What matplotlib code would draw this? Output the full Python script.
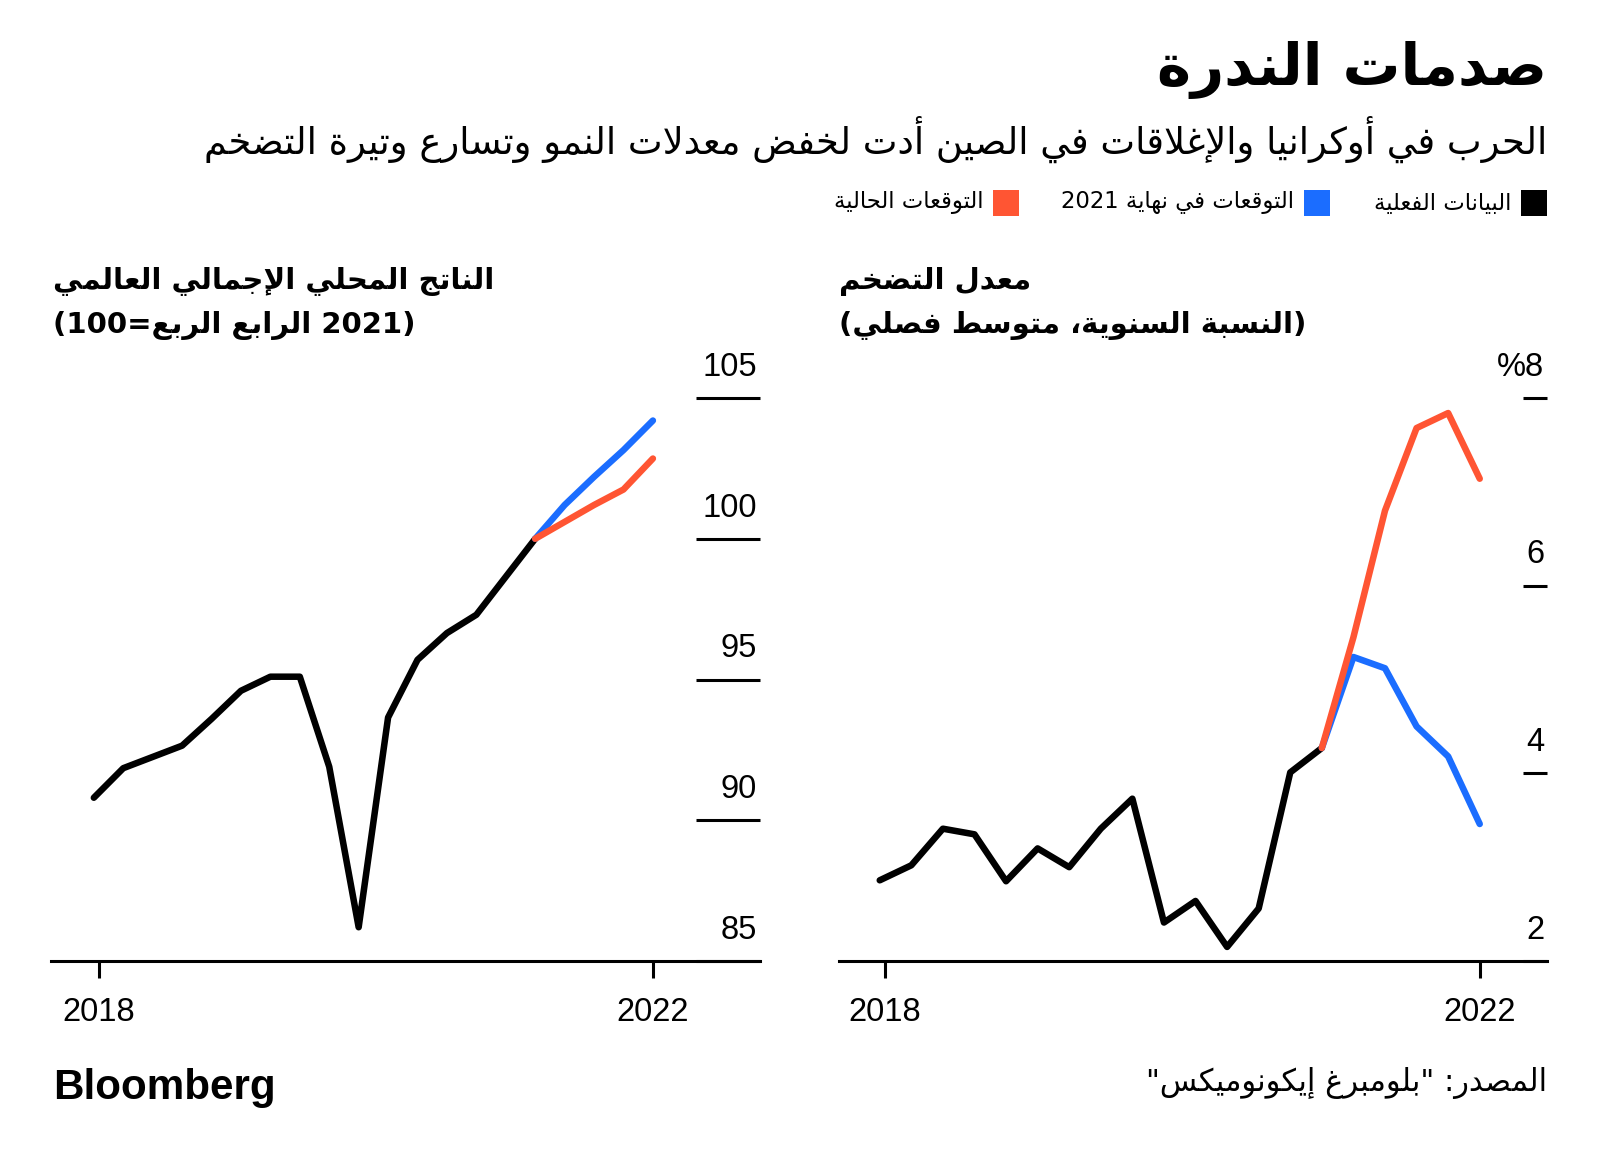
import re
import matplotlib
matplotlib.use("Agg")
import matplotlib.pyplot as plt
from matplotlib.patches import Rectangle

# ---------------- data ----------------
# quarterly, 2018Q1 .. 2022Q4 (index 0..19)
gdp_actual = [90.8, 91.85, 92.25, 92.65, 93.6, 94.6, 95.1, 95.1,
              91.9, 86.2, 93.65, 95.7, 96.65, 97.3, 98.65, 100.0]
gdp_old_fc = [100.0, 101.2, 102.2, 103.15, 104.2]
gdp_new_fc = [100.0, 100.6, 101.2, 101.75, 102.85]

infl_actual = [2.86, 3.02, 3.41, 3.35, 2.85, 3.2, 3.0, 3.41,
               3.73, 2.41, 2.64, 2.15, 2.56, 4.01, 4.27]
infl_old_fc = [4.27, 5.24, 5.12, 4.5, 4.18, 3.46]
infl_new_fc = [4.27, 5.45, 6.8, 7.68, 7.84, 7.14]

x_tick_pos = [0.17, 19]
x_tick_labels = ["2018", "2022"]
gdp_ticks = [85, 90, 95, 100, 105]
gdp_tick_labels = ["85", "90", "95", "100", "105"]
infl_ticks = [2, 4, 6, 8]
infl_tick_labels = ["2", "4", "6", "%8"]

title = "صدمات الندرة"
subtitle = "الحرب في أوكرانيا والإغلاقات في الصين أدت لخفض معدلات النمو وتسارع وتيرة التضخم"
legend_labels = ["البيانات الفعلية", "التوقعات في نهاية 2021", "التوقعات الحالية"]
gdp_title = "الناتج المحلي الإجمالي العالمي"
infl_title = "معدل التضخم"
infl_sub = "(النسبة السنوية، متوسط فصلي)"
source = 'المصدر: "بلومبرغ إيكونوميكس"'

BLACK = "#000000"
BLUE = "#1b6dff"
ORANGE = "#ff5533"
colors = [BLACK, BLUE, ORANGE]

# ---------------- minimal arabic shaping (no raqm in mpl) ----------------
# letter -> (first presentation form, number of forms)
FORMS = {"\u0621": (0xFE80, 1)}
_code = 0xFE81
for _c, _n in zip(range(0x0622, 0x064B),
                  [2, 2, 2, 2, 4, 2, 4, 2, 4, 4, 4, 4, 4, 2, 2, 2, 2, 4, 4, 4, 4, 4, 4, 4, 4,
                   0, 0, 0, 0, 0, 0, 4, 4, 4, 4, 4, 4, 4, 2, 2, 4]):
    if _n:
        FORMS[chr(_c)] = (_code, _n)
        _code += _n
LAMALEF = {"\u0622": 0xFEF5, "\u0623": 0xFEF7, "\u0625": 0xFEF9, "\u0627": 0xFEFB}


def shape(s):
    out = []
    i = 0
    while i < len(s):
        c = s[i]
        if c not in FORMS:
            out.append(c)
            i += 1
            continue
        prev = s[i - 1] if i > 0 else ""
        jp = prev in FORMS and FORMS[prev][1] == 4 and FORMS[c][1] > 1
        if c == "\u0644" and i + 1 < len(s) and s[i + 1] in LAMALEF:
            out.append(chr(LAMALEF[s[i + 1]] + (1 if jp else 0)))
            i += 2
            continue
        nxt = s[i + 1] if i + 1 < len(s) else ""
        base, k = FORMS[c]
        jn = k == 4 and nxt in FORMS and FORMS[nxt][1] > 1
        if k == 4:
            off = 3 if (jp and jn) else 2 if jn else 1 if jp else 0
        elif k == 2:
            off = 1 if jp else 0
        else:
            off = 0
        out.append(chr(base + off))
        i += 1
    return "".join(out)


def ar(s):
    runs = re.findall(r"[0-9A-Za-z]+|.", shape(s))
    runs.reverse()
    return "".join(runs).translate(str.maketrans("()", ")("))


W, H = 1600, 1164
fig = plt.figure(figsize=(W / 100, H / 100), dpi=100)
fig.patch.set_facecolor("white")

AR = ["DejaVu Sans"]
NUM = ["Liberation Sans", "DejaVu Sans"]


def fx(px):
    return px / W


def fy(py):
    return 1 - py / H


# ---------------- header ----------------
fig.text(fx(1547), fy(70), ar(title), family=AR, weight="bold", fontsize=41.5,
         ha="right", va="center")
fig.text(fx(1547), fy(139), ar(subtitle), family=AR, fontsize=26.6,
         ha="right", va="center")

sq = 26
leg_sq_right = [1547, 1330, 1019]
for lab, col, xr in zip(legend_labels, colors, leg_sq_right):
    fig.add_artist(Rectangle((fx(xr - sq), fy(216)), sq / W, sq / H,
                             transform=fig.transFigure, color=col, lw=0))
    fig.text(fx(xr - sq - 10), fy(203), ar(lab), family=AR, fontsize=16.4,
             ha="right", va="center")

# ---------------- panels ----------------
bottom_px, top_px = 961, 355.8
ax1 = fig.add_axes([fx(51), fy(bottom_px), (760 - 51) / W, (bottom_px - top_px) / H])
ax2 = fig.add_axes([fx(839), fy(bottom_px), (1547 - 839) / W, (bottom_px - top_px) / H])


def draw_panel(ax, actual, old_fc, new_fc, ticks, tick_labels, tick_len):
    n = len(actual)
    xa = list(range(n))
    xf = list(range(n - 1, n - 1 + len(old_fc)))
    kw = dict(lw=4.7, solid_capstyle="round", solid_joinstyle="round")
    ax.plot(xa, actual, color=BLACK, **kw)
    ax.plot(xf, old_fc, color=BLUE, **kw)
    ax.plot(xf, new_fc, color=ORANGE, **kw)

    for s in ["top", "left", "right"]:
        ax.spines[s].set_visible(False)
    ax.spines["bottom"].set_linewidth(2.2)

    ax.set_xticks(x_tick_pos)
    ax.set_xticklabels(x_tick_labels, family=NUM, fontsize=23.5)
    ax.tick_params(axis="x", direction="out", length=12, width=2.2, pad=14)

    ax.yaxis.tick_right()
    ax.set_yticks(ticks)
    ax.tick_params(axis="y", direction="in", length=tick_len, width=2.2,
                   labelright=False, labelleft=False)
    for v, lab in zip(ticks, tick_labels):
        ax.annotate(lab, xy=(1, v), xycoords=("axes fraction", "data"),
                    xytext=(-2, 16), textcoords="offset points",
                    ha="right", va="baseline", family=NUM, fontsize=23.5)
    ax.patch.set_visible(False)


draw_panel(ax1, gdp_actual, gdp_old_fc, gdp_new_fc, gdp_ticks, gdp_tick_labels, 46)
ax1.set_xlim(-1.456, 22.64)
ax1.set_ylim(85, 106.5)

draw_panel(ax2, infl_actual, infl_old_fc, infl_new_fc, infl_ticks, infl_tick_labels, 17)
ax2.set_xlim(-1.29, 21.13)
ax2.set_ylim(2, 8.45)

# panel titles (left aligned as in the reference)
fig.text(fx(53), fy(282), ar(gdp_title), family=AR, weight="bold", fontsize=21,
         ha="left", va="center")
fig.text(fx(53), fy(326), "(100=" + ar("الربع") + " " + ar("الرابع") + " 2021)",
         family=AR, weight="bold", fontsize=21, ha="left", va="center")
fig.text(fx(839), fy(282), ar(infl_title), family=AR, weight="bold", fontsize=21,
         ha="left", va="center")
fig.text(fx(839), fy(326), ar(infl_sub), family=AR, weight="bold", fontsize=21,
         ha="left", va="center")

# ---------------- footer ----------------
fig.text(fx(53), fy(1088), "Bloomberg", family=["Liberation Sans", "DejaVu Sans"],
         weight="bold", fontsize=30.3, ha="left", va="center")
fig.text(fx(1547), fy(1083), ar(source), family=AR, fontsize=22,
         ha="right", va="center")

fig.savefig("out.png", dpi=100, facecolor="white")
